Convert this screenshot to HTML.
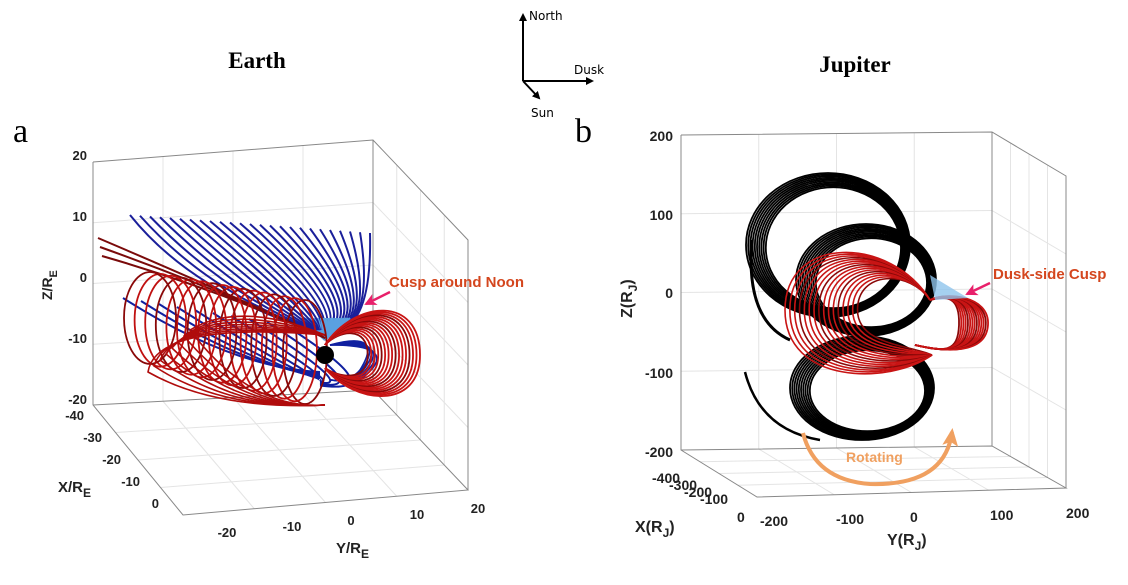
<!DOCTYPE html>
<html><head><meta charset="utf-8"><style>
html,body{margin:0;padding:0;background:#fff;width:1128px;height:585px;overflow:hidden}
svg{display:block}
.t{font-family:"Liberation Sans",Arial,sans-serif;font-weight:bold;fill:#222;font-size:13px}
.g{stroke:#e4e4e4;stroke-width:1;fill:none}
.ax{stroke:#888;stroke-width:1;fill:none}
</style></head><body>
<svg id="s" width="1128" height="585" viewBox="0 0 1128 585" xmlns="http://www.w3.org/2000/svg">
<defs>
<marker id="ah" markerWidth="8" markerHeight="8" refX="6" refY="4" orient="auto" markerUnits="userSpaceOnUse"><path d="M0,0 L8,4 L0,8 Z" fill="#000"/></marker>
<marker id="pk" markerWidth="12" markerHeight="12" refX="10" refY="6" orient="auto" markerUnits="userSpaceOnUse"><path d="M0,0 L12,6 L0,12 L3,6 Z" fill="#e8206a"/></marker>
<marker id="or" markerWidth="20" markerHeight="16" refX="14" refY="8" orient="auto" markerUnits="userSpaceOnUse"><path d="M0,0 L18,8 L0,16 L4,8 Z" fill="#f0a060"/></marker>
</defs>
<text x="257" y="68" text-anchor="middle" style="font-family:'Liberation Serif',serif;font-weight:bold;font-size:23px">Earth</text>
<text x="855" y="72" text-anchor="middle" style="font-family:'Liberation Serif',serif;font-weight:bold;font-size:23px">Jupiter</text>
<text x="13" y="142" style="font-family:'Liberation Serif',serif;font-size:34px">a</text>
<text x="575" y="142" style="font-family:'Liberation Serif',serif;font-size:34px">b</text>
<g stroke="#000" stroke-width="2" fill="none">
<line x1="523" y1="81" x2="523" y2="15" marker-end="url(#ah)"/>
<line x1="523" y1="81" x2="592" y2="81" marker-end="url(#ah)"/>
<line x1="523" y1="81" x2="539" y2="98" marker-end="url(#ah)"/>
</g>
<g style="font-family:'DejaVu Sans',sans-serif;font-size:12px">
<text x="529" y="20">North</text><text x="574" y="74">Dusk</text><text x="531" y="117">Sun</text></g>

<g id="eg"></g>
<g class="ax">
<polyline points="93,162 373,140 468,240 468,490"/>
<line x1="373" y1="140" x2="373" y2="390"/>
<polyline points="93,162 93,405 183,515 468,490 373,390 93,405"/>
</g>
<g class="t" text-anchor="end">
<text x="87" y="160">20</text><text x="87" y="221">10</text><text x="87" y="282">0</text><text x="87" y="343">-10</text><text x="87" y="404">-20</text>
<text x="84" y="420">-40</text><text x="102" y="442">-30</text><text x="121" y="464">-20</text><text x="140" y="486">-10</text><text x="159" y="508">0</text>
</g>
<g class="t" text-anchor="middle">
<text x="227" y="537">-20</text><text x="292" y="531">-10</text><text x="351" y="525">0</text><text x="417" y="519">10</text><text x="478" y="513">20</text>
</g>
<text class="t" x="58" y="492" style="font-size:15px">X/R<tspan dy="5" font-size="12">E</tspan></text>
<text class="t" x="336" y="553" style="font-size:15px">Y/R<tspan dy="5" font-size="12">E</tspan></text>
<text class="t" transform="translate(52,300) rotate(-90)" style="font-size:14px">Z/R<tspan dy="5" font-size="11">E</tspan></text>
<g id="earth"></g>
<text x="389" y="287" style="font-family:'Liberation Sans',sans-serif;font-weight:bold;font-size:15px;fill:#d4461e">Cusp around Noon</text>
<line x1="390" y1="292" x2="366" y2="304" stroke="#e8206a" stroke-width="2.5" marker-end="url(#pk)"/>

<g id="jg"></g>
<g class="ax">
<polyline points="681,135 992,132 1066,176 1066,488"/>
<line x1="992" y1="132" x2="992" y2="446"/>
<polyline points="681,135 681,450 757,497 1066,488 992,446 681,450"/>
</g>
<g class="t" text-anchor="end" style="font-size:14px">
<text x="673" y="141">200</text><text x="673" y="220">100</text><text x="673" y="298">0</text><text x="673" y="378">-100</text><text x="673" y="457">-200</text>
</g>
<g class="t" style="font-size:14px">
<text x="652" y="483">-400</text><text x="669" y="490">-300</text><text x="684" y="497">-200</text><text x="700" y="504">-100</text><text x="737" y="522">0</text>
<text x="760" y="526">-200</text><text x="836" y="524">-100</text><text x="910" y="522">0</text><text x="990" y="520">100</text><text x="1066" y="518">200</text>
</g>
<text class="t" x="635" y="532" style="font-size:16px">X(R<tspan dy="5" font-size="12">J</tspan><tspan dy="-5">)</tspan></text>
<text class="t" x="887" y="545" style="font-size:16px">Y(R<tspan dy="5" font-size="12">J</tspan><tspan dy="-5">)</tspan></text>
<text class="t" transform="translate(632,318) rotate(-90)" style="font-size:16px">Z(R<tspan dy="5" font-size="12">J</tspan><tspan dy="-5">)</tspan></text>
<g id="jup"></g>
<text x="993" y="279" style="font-family:'Liberation Sans',sans-serif;font-weight:bold;font-size:15px;fill:#d4461e">Dusk-side Cusp</text>
<line x1="990" y1="283" x2="967" y2="294" stroke="#e8206a" stroke-width="2.5" marker-end="url(#pk)"/>
<path d="M803,433 Q815,480 870,484 Q945,486 952,432" stroke="#f0a060" stroke-width="4" fill="none" marker-end="url(#or)"/>
<text x="846" y="462" style="font-family:'Liberation Sans',sans-serif;font-weight:bold;font-size:14px;fill:#f0a060">Rotating</text>
</svg>
<script>
var NS="http://www.w3.org/2000/svg";
function el(p,t,a){var e=document.createElementNS(NS,t);for(var k in a)e.setAttribute(k,a[k]);p.appendChild(e);return e;}
function L(a,b,t){return a+(b-a)*t;}
var eg=document.getElementById('eg');
for(var i=1;i<4;i++){var t=i/4;
 el(eg,'line',{x1:L(93,373,t),y1:L(162,140,t),x2:L(93,373,t),y2:L(405,390,t),class:'g'});
 el(eg,'line',{x1:L(93,183,t),y1:L(405,515,t),x2:L(373,468,t),y2:L(390,490,t),class:'g'});
 el(eg,'line',{x1:L(93,373,t),y1:L(405,390,t),x2:L(183,468,t),y2:L(515,490,t),class:'g'});
 el(eg,'line',{x1:L(373,468,t),y1:L(140,240,t),x2:L(373,468,t),y2:L(390,490,t),class:'g'});
 el(eg,'line',{x1:93,y1:L(162,405,t),x2:373,y2:L(140,390,t),class:'g'});
 el(eg,'line',{x1:373,y1:L(140,390,t),x2:468,y2:L(240,490,t),class:'g'});
}
var E=document.getElementById('earth');
for(var i=0;i<10;i++){var sx=123+i*18,sy=298+i*3;
 el(E,'path',{d:'M'+sx+','+sy+' Q'+(sx+110)+','+(sy+70)+' '+(320)+','+(372+i*1.5),stroke:'#1020a0','stroke-width':2,fill:'none'});}
// right side blue inner loops
for(var i=0;i<6;i++){el(E,'path',{d:'M330,345 Q'+(385+i*4)+','+(330+i*3)+' 360,'+(370+i*2)+' Q350,382 330,380',stroke:'#1020a0','stroke-width':1.6,fill:'none'});}
for(var i=0;i<25;i++){var t=i/24,sx=L(130,370,t),sy=L(215,233,t);
 var cx=L(sx+60,372,t),cy=L(290,320,t);
 el(E,'path',{d:'M'+sx+','+sy+' Q'+cx+','+cy+' '+L(310,340,t)+',330',stroke:'#1a1f9a','stroke-width':2,fill:'none'});
 el(E,'line',{x1:L(300,350,t),y1:318,x2:325,y2:340,stroke:'#5aa0e0','stroke-width':2});}
for(var i=0;i<3;i++){el(E,'path',{d:'M'+(98+i*2)+','+(238+i*9)+' Q220,290 325,338',stroke:'#7a0a0a','stroke-width':2,fill:'none'});}
for(var i=0;i<16;i++){var t=i/15;var cx=L(305,150,t),cy=L(352,318,t),rx=L(22,26,t),ry=L(52,46,t);
 el(E,'ellipse',{cx:cx,cy:cy,rx:rx,ry:ry,stroke:i%3?'#c01010':'#8a0808','stroke-width':1.8,fill:'none'});}
for(var i=0;i<8;i++){el(E,'path',{d:'M325,335 Q'+(240-i*12)+','+(300+i*3)+' '+(190-i*6)+','+(330+i*6)+' Q'+(250-i*5)+','+(410)+' 325,405',stroke:'#b00c0c','stroke-width':1.6,fill:'none'});}
// day lobe: loops of varying size
for(var i=0;i<16;i++){var s=L(0.45,1,i/15);var cx=325,cy=355;
 var x1=cx+95*s, yt=cy-55*s, yb=cy+50*s;
 el(E,'path',{d:'M325,345 C'+(cx+30*s)+','+yt+' '+x1+','+(yt-5)+' '+x1+','+cy+' C'+x1+','+(yb+5)+' '+(cx+30*s)+','+yb+' 325,368',stroke:i%4?'#c81414':'#8a0808','stroke-width':1.8,fill:'none'});}
el(E,'circle',{cx:325,cy:355,r:9,fill:'#000'});
var jg=document.getElementById('jg');
for(var i=1;i<4;i++){var t=i/4;
 el(jg,'line',{x1:L(681,992,t),y1:L(135,132,t),x2:L(681,992,t),y2:L(450,446,t),class:'g'});
 el(jg,'line',{x1:681,y1:L(135,450,t),x2:992,y2:L(132,446,t),class:'g'});
 el(jg,'line',{x1:992,y1:L(132,446,t),x2:1066,y2:L(176,488,t),class:'g'});
 el(jg,'line',{x1:L(992,1066,t),y1:L(132,176,t),x2:L(992,1066,t),y2:L(446,488,t),class:'g'});
 el(jg,'line',{x1:L(681,992,t),y1:L(450,446,t),x2:L(757,1066,t),y2:L(497,488,t),class:'g'});
 el(jg,'line',{x1:L(681,757,t),y1:L(450,497,t),x2:L(992,1066,t),y2:L(446,488,t),class:'g'});
}
var J=document.getElementById('jup');
function ring(cx,cy,rx,ry,n,dr,col,w){for(var i=0;i<n;i++)el(J,'ellipse',{cx:cx+i*0.6,cy:cy+i*0.3,rx:rx-i*dr,ry:ry-i*dr*0.8,stroke:col,'stroke-width':w,fill:'none'});}
ring(828,245,82,72,10,1.6,'#000',1.8);
ring(862,388,72,52,10,1.6,'#000',1.8);
ring(866,280,70,56,10,1.6,'#000',1.8);
el(J,'path',{d:'M745,372 Q760,430 820,440',stroke:'#000','stroke-width':2.5,fill:'none'});
el(J,'path',{d:'M752,240 Q745,320 790,340',stroke:'#000','stroke-width':3,fill:'none'});
// red left lobe
for(var i=0;i<16;i++){var s=L(0.5,1,i/15);var cx=930,cy=305;
 var xl=cx-145*s, yt=cy-70*s, yb=cy+80*s;
 el(J,'path',{d:'M930,300 C'+(cx-40*s)+','+yt+' '+xl+','+(yt)+' '+xl+','+(cy+5)+' C'+xl+','+(yb)+' '+(cx-40*s)+','+yb+' 932,355',stroke:i%4?'#c81414':'#8a0808','stroke-width':1.6,fill:'none'});}
// red right lobe
for(var i=0;i<14;i++){var s=L(0.5,1,i/13);
 el(J,'path',{d:'M930,300 C'+(945)+','+(300-8*s)+' '+(930+60*s)+','+(295)+' '+(930+58*s)+','+(325)+' C'+(930+56*s)+','+(350+5*s)+' '+(945)+','+(352)+' 915,345',stroke:i%4?'#c81414':'#8a0808','stroke-width':1.8,fill:'none'});}
el(J,'path',{d:'M930,275 L968,298 L935,300 Z',fill:'#8ec4ec',opacity:0.8});
</script>
</body></html>
